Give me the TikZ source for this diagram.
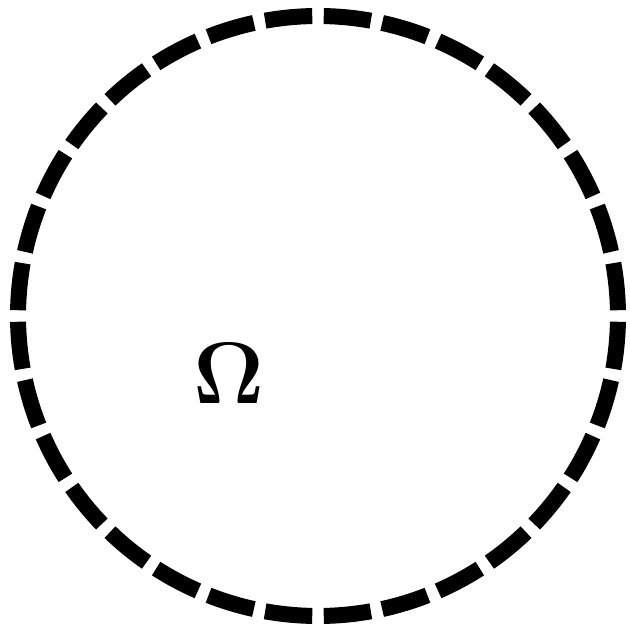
\documentclass[tikz,border=0pt]{standalone}
\tikzset{
  rim/.style={line width=1.6mm},
  domlabel/.style={font=\fontsize{24}{29}\selectfont, inner sep=0pt}
}
\begin{document}
\begin{tikzpicture}
\useasboundingbox (0,0) rectangle (6.30,6.32);
\coordinate (c) at (3.18,3.16);
% dashed boundary, 32 pieces
\foreach \a in {0,11.25,...,349}{
  \draw[rim,shift={(c)}] (\a+1.1:3) arc[start angle=\a+1.1, delta angle=9.05, radius=3];
}
\node[domlabel] (omega) at (2.29,2.58) {$\mathbf{\Omega}$};
\end{tikzpicture}
\end{document}
